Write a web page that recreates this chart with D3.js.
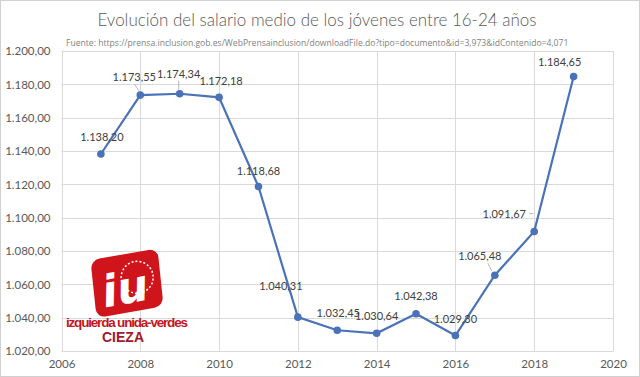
<!DOCTYPE html>
<html><head><meta charset="utf-8">
<script src="https://cdn.jsdelivr.net/npm/d3@7"></script>
<style>body{margin:0;background:#fff}svg{display:block}</style>
</head><body><svg id="c" width="640" height="377"></svg>
<script>
const years = [2007,2008,2009,2010,2011,2012,2013,2014,2015,2016,2017,2018,2019];
const salaries = [1138.20,1173.55,1174.34,1172.18,1118.68,1040.31,1032.45,1030.64,1042.38,1029.30,1065.48,1091.67,1184.65];
const xTicks = [2006,2008,2010,2012,2014,2016,2018,2020];
const yTicks = [1020,1040,1060,1080,1100,1120,1140,1160,1180,1200];
const title = "Evolución del salario medio de los jóvenes entre 16-24 años";
const source = "Fuente: https://prensa.inclusion.gob.es/WebPrensainclusion/downloadFile.do?tipo=documento&id=3,973&idContenido=4,071";
// label offsets (dx, dy) relative to point
const labelOffsets = [[1,-13],[-6,-14],[-1,-16],[2,-12],[0,-12],[-17,-27],[1,-13],[0,-13],[0,-14],[0,-13],[-15,-15],[-30,-14],[-14,-11]];

const svg = d3.select("#c");
const fmt = v => { const s = v.toFixed(2).split("."); return s[0].replace(/\B(?=(\d{3})+(?!\d))/g,".")+","+s[1]; };

svg.append("rect").attr("x",0.5).attr("y",0.5).attr("width",639).attr("height",376).attr("fill","#fff").attr("stroke","#d0d0d0");

const x = d3.scaleLinear().domain([2006,2020]).range([61.5,613]);
const y = d3.scaleLinear().domain([1020,1200]).range([351,51]);

// gridlines
svg.append("g").selectAll("line.h").data(yTicks).join("line")
  .attr("x1",x(2006)).attr("x2",x(2020)).attr("y1",d=>Math.round(y(d))+0.5).attr("y2",d=>Math.round(y(d))+0.5)
  .attr("stroke","#d9d9d9");
svg.append("g").selectAll("line.v").data(xTicks).join("line")
  .attr("y1",y(1020)).attr("y2",y(1200)).attr("x1",d=>Math.round(x(d))+0.5).attr("x2",d=>Math.round(x(d))+0.5)
  .attr("stroke","#d9d9d9");

// axes
const yAxis = d3.axisLeft(y).tickValues(yTicks).tickFormat(fmt).tickSize(0).tickPadding(11);
const gy = svg.append("g").attr("transform",`translate(${x(2006)},0)`).call(yAxis);
gy.select(".domain").remove();
gy.selectAll("text").attr("fill","#595959").style("font-family","Lato, 'Open Sans', sans-serif").style("font-size","11.5px");
const xAxis = d3.axisBottom(x).tickValues(xTicks).tickFormat(d3.format("d")).tickSize(0).tickPadding(9);
const gx = svg.append("g").attr("transform",`translate(0,${y(1020)})`).call(xAxis);
gx.select(".domain").attr("stroke","#d9d9d9");
gx.selectAll("text").attr("fill","#595959").style("font-family","Lato, 'Open Sans', sans-serif").style("font-size","11.5px");

// title & source
svg.append("text").attr("x",317).attr("y",26).attr("text-anchor","middle").attr("fill","#595959")
  .style("font-family","Lato, 'Open Sans', sans-serif").style("font-size","17px").style("font-weight","300").text(title);
svg.append("text").attr("x",66).attr("y",46).attr("fill","#7f7f7f")
  .style("font-family","'Open Sans', Lato, sans-serif").style("font-size","8.6px").text(source);

// logo
const logo = svg.append("g");
logo.append("rect").attr("x",-35).attr("y",-29).attr("width",68).attr("height",58).attr("rx",9)
  .attr("fill","#d0141b").attr("transform","translate(128,283) rotate(-10) skewX(-4)");
const lg = logo.append("g").attr("transform","translate(128,283) rotate(-10)");
lg.append("circle").attr("cx",10).attr("cy",-4).attr("r",16).attr("fill","none").attr("stroke","#fff").attr("stroke-width",1.5).attr("stroke-dasharray","2,2");
lg.append("text").attr("x",-4).attr("y",20).attr("text-anchor","middle").attr("fill","#fff")
  .style("font-family","'DejaVu Sans', sans-serif").style("font-weight","bold").style("font-style","italic").style("font-size","44px").text("iu");
logo.append("text").attr("x",127).attr("y",327).attr("text-anchor","middle").attr("fill","#c4161c")
  .style("font-family","'Liberation Sans Narrow', 'Liberation Sans', sans-serif").style("font-weight","bold").style("font-size","13.5px")
  .attr("textLength",122).text("izquierda unida-verdes");
logo.append("text").attr("x",123).attr("y",342).attr("text-anchor","middle").attr("fill","#a3182a")
  .style("font-family","'Liberation Sans Narrow', 'Liberation Sans', sans-serif").style("font-weight","bold").style("font-size","14px").text("CIEZA");

// line
const pts = years.map((yr,i)=>({yr,v:salaries[i],i}));
svg.append("path").datum(pts).attr("fill","none").attr("stroke","#4a72b8").attr("stroke-width",2.2)
  .attr("d",d3.line().x(d=>x(d.yr)).y(d=>y(d.v)));

// leader lines (from label toward point)
const lead = svg.append("g").attr("stroke","#a6a6a6").attr("stroke-width",0.8);
[1,2].forEach(i=>{
  const px=x(years[i]), py=y(salaries[i]);
  lead.append("line").attr("x1",px-1).attr("y1",py-4).attr("x2",px+labelOffsets[i][0]).attr("y2",py+labelOffsets[i][1]+3);
});
{ const i=10, px=x(years[i]), py=y(salaries[i]);
  lead.append("line").attr("x1",px-3).attr("y1",py-4).attr("x2",px+labelOffsets[i][0]+8).attr("y2",py+labelOffsets[i][1]+3); }
{ const i=11, px=x(years[i]), py=y(salaries[i]);
  lead.append("line").attr("x1",px+labelOffsets[i][0]+25).attr("y1",py+labelOffsets[i][1]-4).attr("x2",px-1).attr("y2",py+labelOffsets[i][1]-4); }

svg.append("g").selectAll("circle").data(pts).join("circle")
  .attr("cx",d=>x(d.yr)).attr("cy",d=>y(d.v)).attr("r",3.8).attr("fill","#4a72b8");

svg.append("g").selectAll("text").data(pts).join("text")
  .attr("x",d=>x(d.yr)+labelOffsets[d.i][0]).attr("y",d=>y(d.v)+labelOffsets[d.i][1])
  .attr("text-anchor","middle").attr("fill","#404040")
  .style("font-family","Lato, 'Open Sans', sans-serif").style("font-size","11px").text(d=>fmt(d.v));
</script></body></html>
